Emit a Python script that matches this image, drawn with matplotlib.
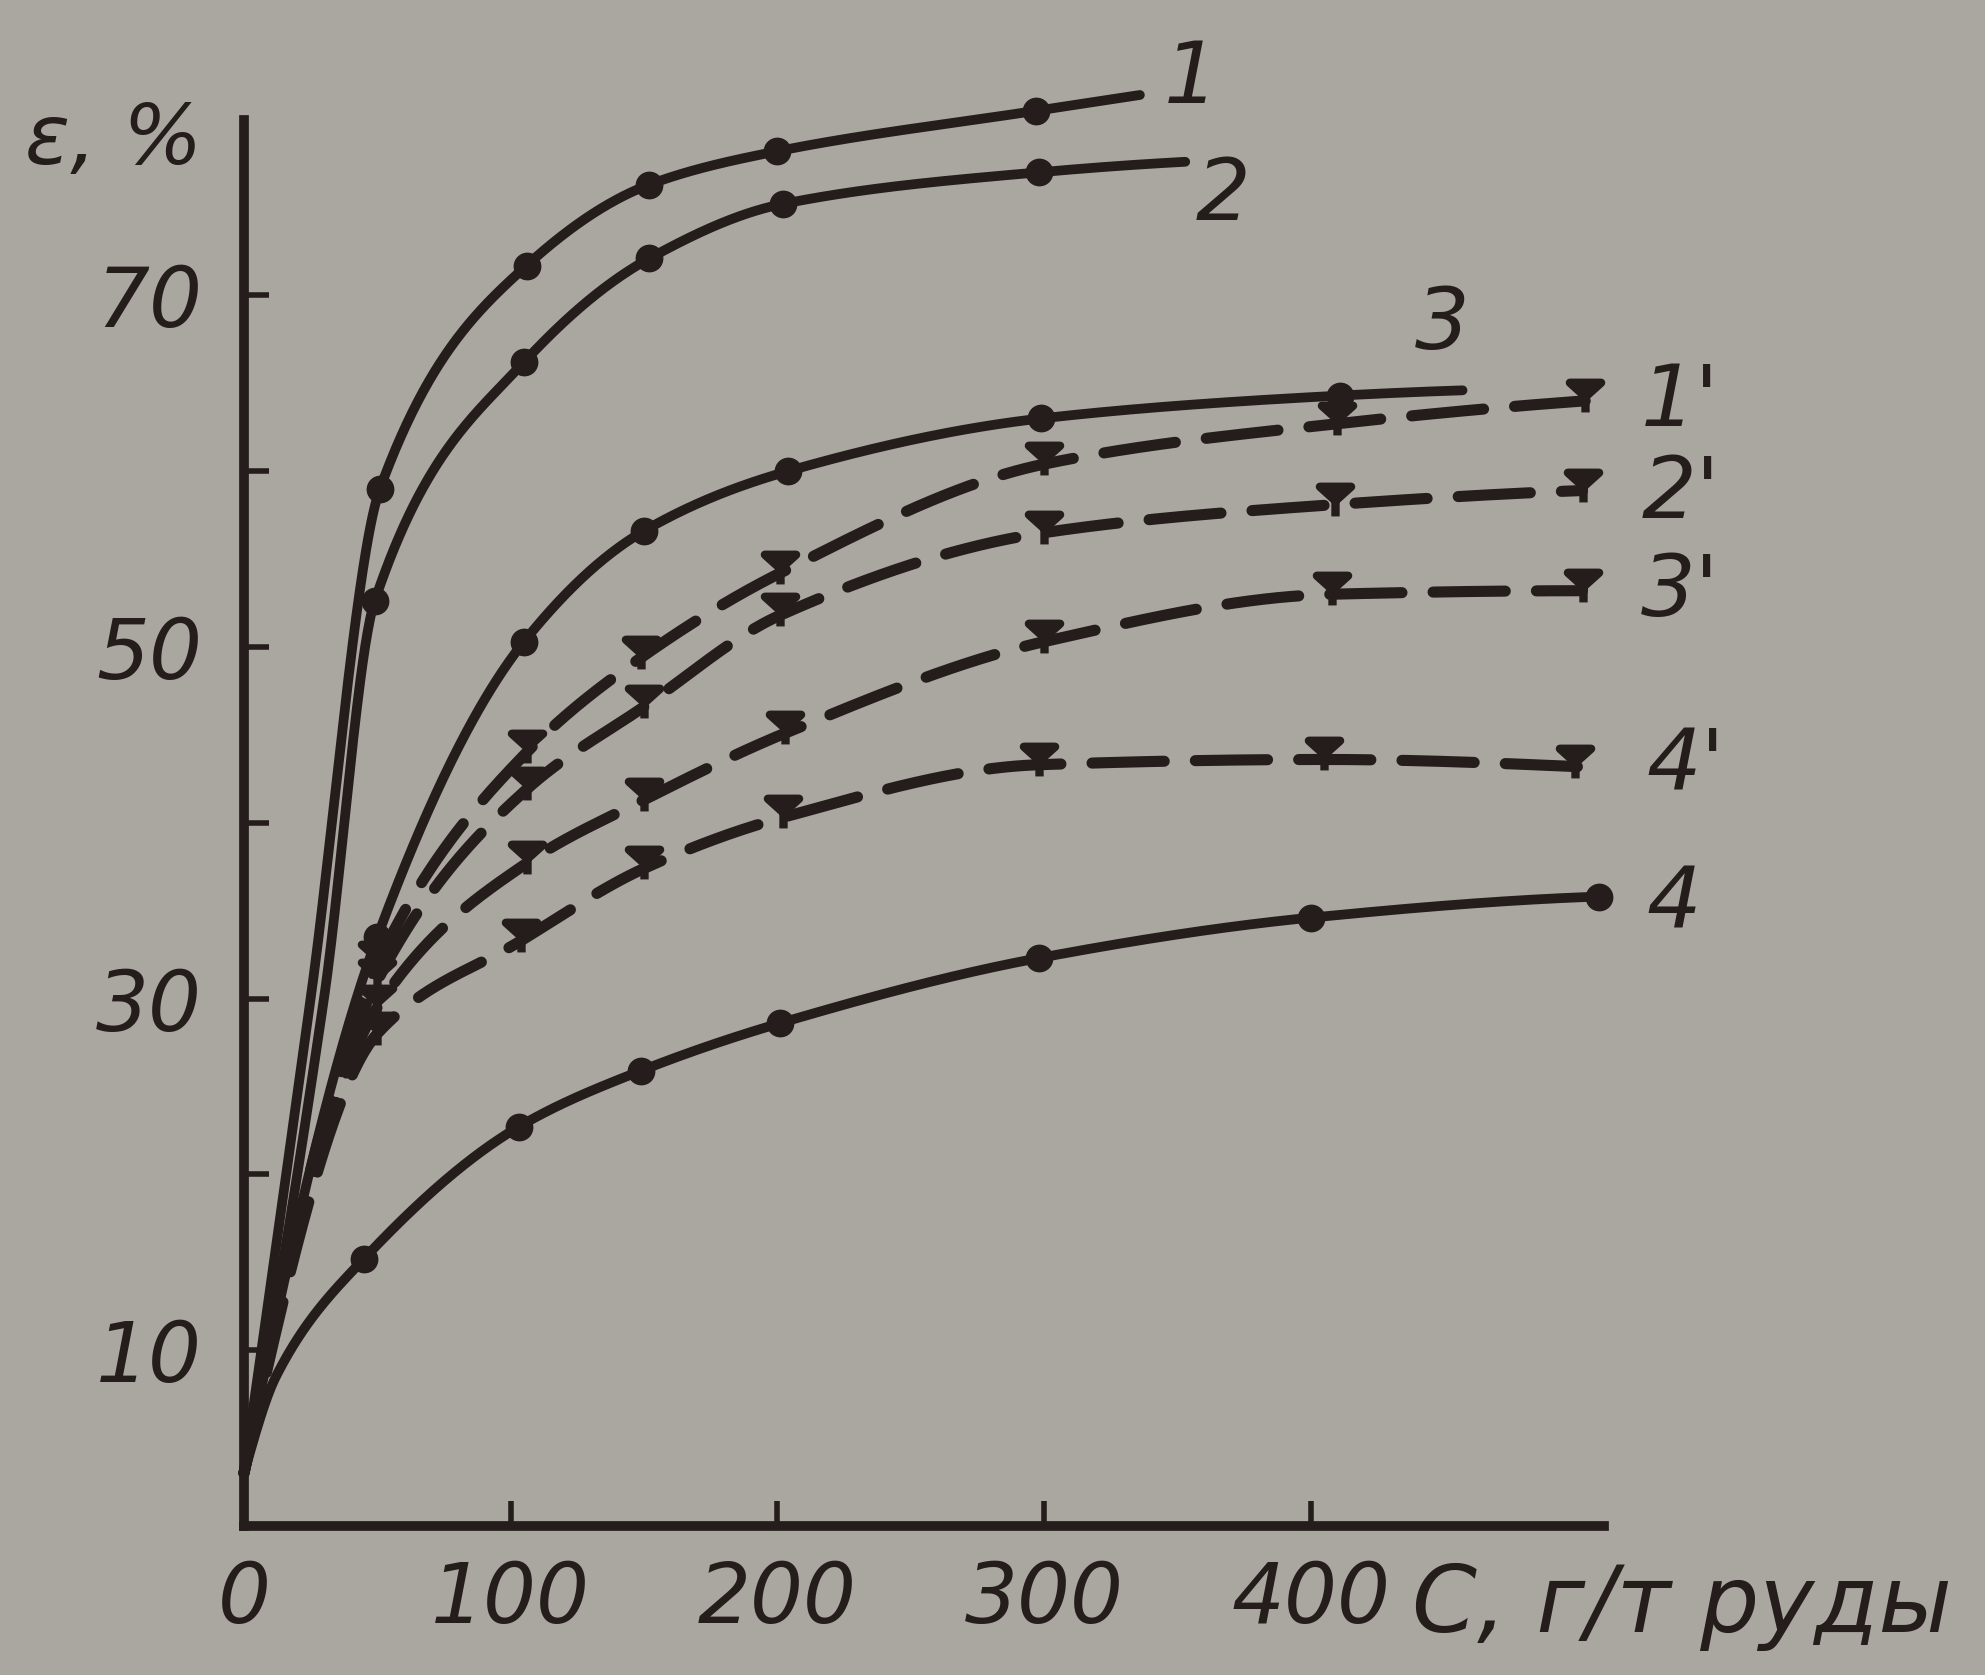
import numpy as np
import matplotlib.pyplot as plt
from matplotlib.path import Path

PAPER, INK = "#aaa6a0", "#241d1b"
plt.rcParams.update({"font.family": ["DejaVu Sans"], "font.style": "italic"})

# C (g/t ore) and recovery eps (%); solid curves 1-4
x1 = [51, 106, 152, 200, 297];            y1 = [59.0, 71.7, 76.3, 78.2, 80.5]
x2 = [49, 105, 152, 202, 298];            y2 = [52.6, 66.2, 72.1, 75.2, 77.0]
x3 = [50, 105, 150, 204, 299, 411];       y3 = [33.5, 50.3, 56.6, 60.0, 63.0, 64.3]
x4 = [45, 103, 149, 201, 298, 400, 508];  y4 = [15.2, 22.7, 25.9, 28.6, 32.3, 34.6, 35.8]
# dashed curves 1'-4'
x1d = [50, 106, 149, 201, 300, 410, 503];  y1d = [32.0, 44.0, 49.4, 54.2, 60.4, 62.7, 64.0]
x2d = [50, 106, 150, 201, 300, 409, 502];  y2d = [31.0, 41.9, 46.6, 51.8, 56.5, 58.1, 58.9]
x3d = [50, 106, 150, 203, 300, 408, 502];  y3d = [29.5, 37.7, 41.3, 45.1, 50.3, 53.0, 53.2]
x4d = [50, 104, 150, 202, 298, 405, 499];  y4d = [28.0, 33.3, 37.4, 40.3, 43.3, 43.6, 43.2]
start = (0, 3.0)                       # all curves leave the origin region
lead = {"1": [(25, 30.0)], "2": [(30, 30.0)], "4": [(12, 8.5)]}   # unmarked points on the rise
ends = {"1": (336, 81.4), "2": (353, 77.6), "3": (457, 64.6), "4'": (509, 43.1)}


def pchip(x, y, xs):
    x = np.asarray(x, float); y = np.asarray(y, float)
    h = np.diff(x); d = np.diff(y) / h
    m = np.zeros_like(y)
    for k in range(1, len(x) - 1):
        if d[k - 1] * d[k] > 0:
            w1, w2 = 2 * h[k] + h[k - 1], h[k] + 2 * h[k - 1]
            m[k] = (w1 + w2) / (w1 / d[k - 1] + w2 / d[k])
    m[0] = ((2 * h[0] + h[1]) * d[0] - h[0] * d[1]) / (h[0] + h[1])
    if np.sign(m[0]) != np.sign(d[0]): m[0] = 0
    m[-1] = ((2 * h[-1] + h[-2]) * d[-1] - h[-1] * d[-2]) / (h[-1] + h[-2])
    if np.sign(m[-1]) != np.sign(d[-1]): m[-1] = 0
    i = np.clip(np.searchsorted(x, xs) - 1, 0, len(x) - 2)
    t = (xs - x[i]) / h[i]
    return ((2*t**3 - 3*t**2 + 1) * y[i] + (t**3 - 2*t**2 + t) * h[i] * m[i]
            + (-2*t**3 + 3*t**2) * y[i + 1] + (t**3 - t**2) * h[i] * m[i + 1])


# tee marker of the dashed curves
tee = Path([(-1, 1.2), (1, 1.2), (0, 0.3), (-1, 1.2), (0, 0.6), (0, -0.7)],
           [Path.MOVETO, Path.LINETO, Path.LINETO, Path.CLOSEPOLY, Path.MOVETO, Path.LINETO])

fig = plt.figure(figsize=(19.85, 16.75), dpi=100, facecolor=PAPER)
ax = fig.add_axes([0.1229, 0.0890, 0.6851, 0.8396], facecolor=PAPER)

curves = [(x1, y1, "1", False), (x2, y2, "2", False), (x3, y3, "3", False), (x4, y4, "4", False),
          (x1d, y1d, "1'", True), (x2d, y2d, "2'", True), (x3d, y3d, "3'", True), (x4d, y4d, "4'", True)]
for xs, ys, name, dashed in curves:
    pts = [start] + lead.get(name, []) + list(zip(xs, ys))
    if name in ends:
        pts.append(ends[name])
    px, py = zip(*pts)
    xx = np.linspace(px[0], px[-1], 800)
    if dashed:
        ax.plot(xx, pchip(px, py, xx), color=INK, lw=8, dashes=(6.5, 2.8),
                dash_capstyle="round", clip_on=False, zorder=3)
        ax.plot(xs, ys, ls="none", marker=tee, ms=27, mfc=INK, mec=INK, mew=6,
                clip_on=False, zorder=4)
    else:
        ax.plot(xx, pchip(px, py, xx), color=INK, lw=7, solid_capstyle="round",
                clip_on=False, zorder=3)
        ax.plot(xs, ys, ls="none", marker="o", ms=19, mfc=INK, mec=INK,
                clip_on=False, zorder=4)

# curve numbers
labels = {"1": (345, 82.3), "2": (357, 75.6), "3": (439, 68.3), "1'": (524, 63.9),
          "2'": (524, 58.7), "3'": (524, 53.1), "4'": (526, 43.2), "4": (526, 35.3)}
for name, (lx, ly) in labels.items():
    ax.text(lx, ly, name, fontsize=62, color=INK, ha="left", va="center", clip_on=False)

ax.set_xlim(0, 510); ax.set_ylim(0, 80)
ax.set_xticks([0, 100, 200, 300, 400])
ax.set_xticklabels(["0", "100", "200", "300", "400"])
ax.set_yticks([10, 30, 50, 70])
ax.set_yticks([20, 40, 60], minor=True)
ax.tick_params(axis="both", which="both", direction="in", length=18, width=4,
               color=INK, labelcolor=INK, labelsize=60)
ax.tick_params(axis="x", pad=24)
ax.tick_params(axis="y", pad=30)
for s in ["top", "right"]:
    ax.spines[s].set_visible(False)
for s in ["left", "bottom"]:
    ax.spines[s].set_linewidth(7); ax.spines[s].set_color(INK)

fig.text(1412 / 1985, 1 - 1606 / 1675, "C, г/т руды", fontsize=67, color=INK,
         ha="left", va="center")
fig.text(25 / 1985, 1 - 140 / 1675, "ε, %", fontsize=60, color=INK, ha="left", va="center")

fig.savefig("out.png", dpi=100, facecolor=PAPER)
